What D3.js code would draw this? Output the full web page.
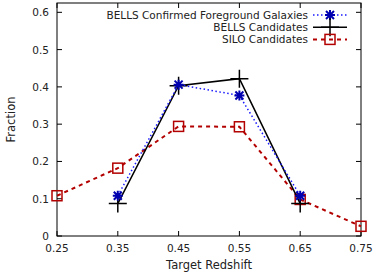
<!DOCTYPE html>
<html>
<head>
<meta charset="utf-8">
<script src="https://cdn.jsdelivr.net/npm/d3@7"></script>
<style>
body { margin: 0; background: #fff; }
text { font-family: "DejaVu Sans", sans-serif; font-size: 10.5px; fill: #222; }
</style>
</head>
<body>
<div id="chart"></div>
<script>
// data
const xTicks = [0.25, 0.35, 0.45, 0.55, 0.65, 0.75];
const yTicks = [0, 0.1, 0.2, 0.3, 0.4, 0.5, 0.6];
const bellsX = [0.35, 0.45, 0.55, 0.65];
const bellsConfirmed = [0.108, 0.406, 0.377, 0.108];
const bellsCandidates = [0.087, 0.403, 0.422, 0.087];
const siloX = [0.25, 0.35, 0.45, 0.55, 0.65, 0.75];
const siloCandidates = [0.108, 0.182, 0.294, 0.293, 0.098, 0.026];

const W = 374, H = 275;
const margin = {top: 3, right: 13, bottom: 39, left: 57};
const width = W - margin.left - margin.right;
const height = H - margin.top - margin.bottom;

const svg = d3.select("#chart").append("svg")
    .attr("width", W).attr("height", H);
const g = svg.append("g")
    .attr("transform", "translate(" + margin.left + "," + margin.top + ")");

const x = d3.scaleLinear().domain([0.25, 0.75]).range([0, width]);
const y = d3.scaleLinear().domain([0, 0.625]).range([height, 0]);

// frame
g.append("rect").attr("width", width).attr("height", height)
    .attr("fill", "none").attr("stroke", "#000").attr("stroke-width", 1);

// ticks (inward, mirrored)
const tl = 5;
xTicks.forEach(t => {
    g.append("line").attr("x1", x(t)).attr("x2", x(t)).attr("y1", height).attr("y2", height - tl).attr("stroke", "#000");
    g.append("line").attr("x1", x(t)).attr("x2", x(t)).attr("y1", 0).attr("y2", tl).attr("stroke", "#000");
    g.append("text").attr("x", x(t)).attr("y", height + 16).attr("text-anchor", "middle").text(t.toFixed(2));
});
yTicks.forEach(t => {
    g.append("line").attr("x1", 0).attr("x2", tl).attr("y1", y(t)).attr("y2", y(t)).attr("stroke", "#000");
    g.append("line").attr("x1", width).attr("x2", width - tl).attr("y1", y(t)).attr("y2", y(t)).attr("stroke", "#000");
    g.append("text").attr("x", -8).attr("y", y(t) + 4).attr("text-anchor", "end").text(t === 0 ? "0" : t.toFixed(1));
});

svg.append("text").attr("x", margin.left + width / 2).attr("y", H - 6)
    .attr("text-anchor", "middle").style("font-size", "11.5px").text("Target Redshift");
svg.append("text").attr("transform", "translate(15," + (margin.top + height / 2) + ") rotate(-90)")
    .attr("text-anchor", "middle").style("font-size", "11.5px").text("Fraction");

const line = d3.line().x(d => x(d[0])).y(d => y(d[1]));

const series = [
    {name: "SILO Candidates", xs: siloX, ys: siloCandidates, color: "#b30000", dash: "4,4", width: 2, marker: "square"},
    {name: "BELLS Candidates", xs: bellsX, ys: bellsCandidates, color: "#000", dash: null, width: 1.5, marker: "plus"},
    {name: "BELLS Confirmed Foreground Galaxies", xs: bellsX, ys: bellsConfirmed, color: "#1a1aff", dash: "1.5,2.5", width: 1.5, marker: "star"}
];

function drawMarker(sel, type, color) {
    if (type === "square") {
        sel.append("rect").attr("x", -5).attr("y", -5).attr("width", 10).attr("height", 10)
            .attr("fill", "none").attr("stroke", color).attr("stroke-width", 1.5);
    } else if (type === "plus") {
        sel.append("path").attr("d", "M-9,0H9M0,-9V9").attr("stroke", color).attr("stroke-width", 1.5);
    } else {
        sel.append("path").attr("d", "M-5,0H5M0,-5V5M-4,-4L4,4M-4,4L4,-4")
            .attr("stroke", "#0000b0").attr("stroke-width", 2);
    }
}

series.forEach(s => {
    const pts = s.xs.map((v, i) => [v, s.ys[i]]);
    g.append("path").datum(pts).attr("d", line).attr("fill", "none")
        .attr("stroke", s.color).attr("stroke-width", s.width)
        .attr("stroke-dasharray", s.dash);
    pts.forEach(p => {
        const m = g.append("g").attr("transform", "translate(" + x(p[0]) + "," + y(p[1]) + ")");
        drawMarker(m, s.marker, s.color);
    });
});

// legend
const legendOrder = [series[2], series[1], series[0]];
legendOrder.forEach((s, i) => {
    const ly = 15 + i * 12.2;
    svg.append("text").attr("x", 308).attr("y", ly + 4).attr("text-anchor", "end").text(s.name);
    svg.append("line").attr("x1", 313).attr("x2", 347).attr("y1", ly).attr("y2", ly)
        .attr("stroke", s.color).attr("stroke-width", s.width).attr("stroke-dasharray", s.dash);
    const m = svg.append("g").attr("transform", "translate(330," + ly + ")");
    drawMarker(m, s.marker, s.color);
});
</script>
</body>
</html>
